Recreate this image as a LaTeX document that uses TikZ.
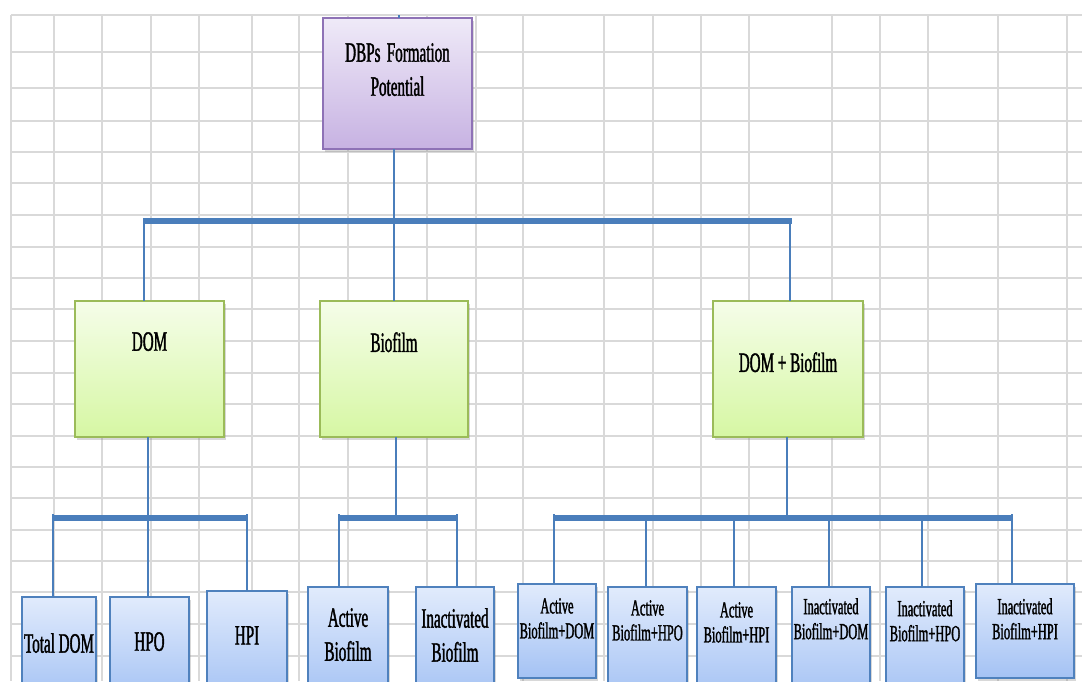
\documentclass[tikz,border=0pt]{standalone}
\usepackage{fontspec}
\newfontfamily\cond[FakeStretch=0.54,FakeBold=1.3]{Liberation Serif}
\usetikzlibrary{shadows,fit}
\definecolor{gridc}{HTML}{D9D9D9}
\definecolor{connc}{HTML}{4A7EBB}
\definecolor{blueTop}{HTML}{E1EBFC}
\definecolor{blueBot}{HTML}{A4C2F4}
\definecolor{blueDraw}{HTML}{4F81BD}
\definecolor{greenTop}{HTML}{F5FDE9}
\definecolor{greenBot}{HTML}{D6F7A3}
\definecolor{greenDraw}{HTML}{9BBB59}
\definecolor{purpTop}{HTML}{EFEAF8}
\definecolor{purpBot}{HTML}{C7B2E2}
\definecolor{purpDraw}{HTML}{8E72B6}
\tikzset{
  gridline/.style={draw=gridc, line width=1.5pt},
  hbar/.style={draw=connc, line width=6.5pt},
  stem/.style={draw=connc, line width=2.8pt},
  boxbase/.style={inner sep=0pt, outer sep=0pt, line width=1.2pt,
    drop shadow={shadow xshift=1.5pt, shadow yshift=-3pt, opacity=0.3}},
  bluebox/.style={boxbase, draw=blueDraw, top color=blueTop, bottom color=blueBot},
  greenbox/.style={boxbase, draw=greenDraw, top color=greenTop, bottom color=greenBot},
  purplebox/.style={boxbase, draw=purpDraw, top color=purpTop, bottom color=purpBot},
  txtbig/.style={font=\cond\fontsize{28}{34}\selectfont, align=center, inner sep=0pt, anchor=north},
  txtsmall/.style={font=\cond\fontsize{23}{25}\selectfont, align=center, inner sep=0pt, anchor=north},
}
\begin{document}
\begin{tikzpicture}[x=1pt,y=-1pt]
\useasboundingbox (0,0) rectangle (1082,681);
\fill[white] (0,0) rectangle (1082,681);
\clip (0,0) rectangle (1082,681);
% grid
\foreach \gx in {11,54,102,151,199,252,299,348,427,476,523,604,653,701,749,832,880,928,998,1067}
  \draw[gridline] (\gx,15) -- (\gx,681);
\foreach \gy in {15,52,88,121,152,183,215,247,278,309,341,373,404,436,467,498,530,561,592,624,656}
  \draw[gridline] (11,\gy) -- (1082,\gy);

% boxes
\node[purplebox, fit={(323,18) (472,149)}] (dbp) {};
\node[greenbox, fit={(75,301) (224,437)}] (dom) {};
\node[greenbox, fit={(320,301) (468,437)}] (bio) {};
\node[greenbox, fit={(713,301) (863,437)}] (dombio) {};
\node[bluebox, fit={(22,597) (96,700)}] (tdom) {};
\node[bluebox, fit={(110,597) (189,700)}] (hpo) {};
\node[bluebox, fit={(207,591) (287,700)}] (hpi) {};
\node[bluebox, fit={(308,587) (388,700)}] (ab) {};
\node[bluebox, fit={(416,587) (494,700)}] (ib) {};
\node[bluebox, fit={(518,584) (596,678)}] (abdom) {};
\node[bluebox, fit={(608,587) (687,700)}] (abhpo) {};
\node[bluebox, fit={(697,587) (776,700)}] (abhpi) {};
\node[bluebox, fit={(792,587) (870,700)}] (ibdom) {};
\node[bluebox, fit={(886,587) (964,700)}] (ibhpo) {};
\node[bluebox, fit={(976,584) (1074,678)}] (ibhpi) {};

% texts
\node[txtbig] (t-dbp) at ([yshift=-25pt]dbp.north) {DBPs\hspace{2.5pt} Formation\\Potential};
\node[txtbig] (t-dom) at ([yshift=-31pt]dom.north) {DOM};
\node[txtbig] (t-bio) at ([yshift=-31pt]bio.north) {Biofilm};
\node[txtbig] (t-dombio) at ([yshift=-51pt]dombio.north) {DOM + Biofilm};
\node[txtbig] (t-tdom) at ([yshift=-36pt]tdom.north) {Total DOM};
\node[txtbig] (t-hpo) at ([yshift=-35pt]hpo.north) {HPO};
\node[txtbig] (t-hpi) at ([yshift=-35pt]hpi.north) {HPI};
\node[txtbig] (t-ab) at ([yshift=-21pt]ab.north) {Active\\Biofilm};
\node[txtbig] (t-ib) at ([yshift=-21pt]ib.north) {Inactivated\\Biofilm};
\node[txtsmall] (t-abdom) at ([yshift=-14pt]abdom.north) {Active\\Biofilm+DOM};
\node[txtsmall] (t-abhpo) at ([yshift=-13pt]abhpo.north) {Active\\Biofilm+HPO};
\node[txtsmall] (t-abhpi) at ([yshift=-15pt]abhpi.north) {Active\\Biofilm+HPI};
\node[txtsmall] (t-ibdom) at ([yshift=-11pt]ibdom.north) {Inactivated\\Biofilm+DOM};
\node[txtsmall] (t-ibhpo) at ([yshift=-13pt]ibhpo.north) {Inactivated\\Biofilm+HPO};
\node[txtsmall] (t-ibhpi) at ([yshift=-14pt]ibhpi.north) {Inactivated\\Biofilm+HPI};

% top level connectors
\coordinate (tick) at (399,15);
\draw[stem] (tick) -- (tick |- dbp.north);
\coordinate (jl) at (143,221);
\coordinate (jr) at (792,221);
\coordinate (j0) at (394,221);
\coordinate (j1) at (144,221);
\coordinate (j2) at (394,221);
\coordinate (j3) at (790,221);
\draw[stem] (dbp.south -| j0) -- (j0);
\draw[stem] (j1) -- (j1 |- dom.north);
\draw[stem] (j2) -- (j2 |- bio.north);
\draw[stem] (j3) -- (j3 |- dombio.north);
\draw[hbar] (jl) -- (jr);

% DOM group
\coordinate (d0) at (148,518);
\coordinate (d1) at (53,518);
\coordinate (d2) at (148,518);
\coordinate (d3) at (247,518);
\draw[stem] (dom.south -| d0) -- (d0);
\draw[stem] ([yshift=4pt]d1) -- (d1 |- tdom.north);
\draw[stem] (d2) -- (d2 |- hpo.north);
\draw[stem] ([yshift=4pt]d3) -- (d3 |- hpi.north);
\draw[hbar] (d1) -- (d3);

% Biofilm group
\coordinate (b0) at (396,518);
\coordinate (b1) at (339,518);
\coordinate (b2) at (457,518);
\draw[stem] (bio.south -| b0) -- (b0);
\draw[stem] ([yshift=4pt]b1) -- (b1 |- ab.north);
\draw[stem] ([yshift=4pt]b2) -- (b2 |- ib.north);
\draw[hbar] (b1) -- (b2);

% DOM + Biofilm group
\coordinate (m0) at (787,518);
\coordinate (m1) at (554,518);
\coordinate (m2) at (646,518);
\coordinate (m3) at (734,518);
\coordinate (m4) at (829,518);
\coordinate (m5) at (922,518);
\coordinate (m6) at (1012,518);
\draw[stem] (dombio.south -| m0) -- (m0);
\draw[stem] ([yshift=4pt]m1) -- (m1 |- abdom.north);
\draw[stem] (m2) -- (m2 |- abhpo.north);
\draw[stem] (m3) -- (m3 |- abhpi.north);
\draw[stem] (m4) -- (m4 |- ibdom.north);
\draw[stem] (m5) -- (m5 |- ibhpo.north);
\draw[stem] ([yshift=4pt]m6) -- (m6 |- ibhpi.north);
\draw[hbar] (m1) -- (m6);
\end{tikzpicture}
\end{document}
